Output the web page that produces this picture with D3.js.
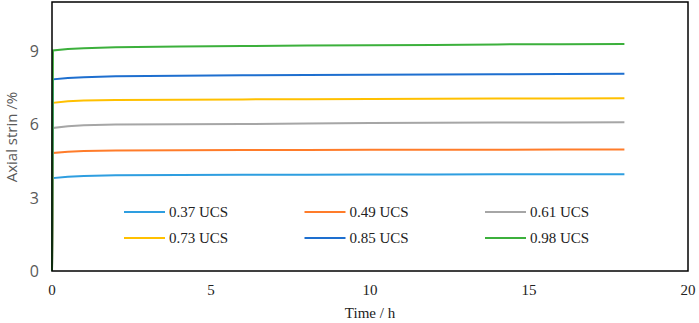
<!DOCTYPE html>
<html lang="en">
<head>
    <meta charset="UTF-8">
    <title>Axial strain</title>
    <script src="https://cdn.jsdelivr.net/npm/d3@7"></script>
    <style>
        body { margin: 0; background: #fff; }
    </style>
</head>
<body>
<script>
    const times = [0, 0.03, 0.5, 1, 2, 4, 6, 8, 10, 12, 14, 16, 18];
    const labels = ["0.37 UCS", "0.49 UCS", "0.61 UCS", "0.73 UCS", "0.85 UCS", "0.98 UCS"];
    const colors = ["#2e9ee0", "#ff7c2a", "#a6a6a6", "#ffc000", "#1e6fcf", "#3cb03c"];
    const s037 = [0, 3.80, 3.86, 3.89, 3.92, 3.93, 3.94, 3.94, 3.95, 3.95, 3.96, 3.96, 3.96];
    const s049 = [0, 4.83, 4.88, 4.91, 4.93, 4.94, 4.95, 4.95, 4.96, 4.96, 4.96, 4.97, 4.97];
    const s061 = [0, 5.85, 5.92, 5.96, 5.99, 6.00, 6.01, 6.03, 6.05, 6.06, 6.07, 6.08, 6.09];
    const s073 = [0, 6.88, 6.94, 6.97, 7.00, 7.01, 7.02, 7.03, 7.04, 7.05, 7.06, 7.06, 7.07];
    const s085 = [0, 7.84, 7.90, 7.93, 7.97, 7.99, 8.01, 8.02, 8.03, 8.04, 8.05, 8.06, 8.07];
    const s098 = [0, 9.02, 9.08, 9.11, 9.15, 9.18, 9.20, 9.22, 9.24, 9.25, 9.27, 9.28, 9.29];
    const series = [s037, s049, s061, s073, s085, s098];
    const xTicks = [0, 5, 10, 15, 20];
    const yTicks = [0, 3, 6, 9];

    const serif = "'Liberation Serif', 'Times New Roman', serif";
    const sans = "'Open Sans', 'Liberation Sans', sans-serif";

    const dim = {width: 699, height: 323};
    const box = {left: 52, right: 688, top: 2, bottom: 271};

    const svg = d3.select("body").append("svg")
        .attr("width", dim.width)
        .attr("height", dim.height);

    const x = d3.scaleLinear().domain([0, 20]).range([box.left, box.right]);
    const y = d3.scaleLinear().domain([0, 9]).range([box.bottom, 51]);

    const line = d3.line().x((d, i) => x(times[i])).y(d => y(d));
    svg.append("g").selectAll("path")
        .data(series)
        .join("path")
        .attr("d", d => line(d))
        .attr("fill", "none")
        .attr("stroke", (d, i) => colors[i])
        .attr("stroke-width", 2);

    // frame
    svg.append("rect")
        .attr("x", box.left).attr("y", box.top)
        .attr("width", box.right - box.left)
        .attr("height", box.bottom - box.top)
        .attr("fill", "none")
        .attr("stroke", "#000")
        .attr("stroke-width", 1.5);

    // x axis labels
    svg.append("g").selectAll("text")
        .data(xTicks)
        .join("text")
        .attr("font-family", serif)
        .attr("x", d => x(d))
        .attr("y", 295)
        .attr("text-anchor", "middle")
        .attr("font-size", 15)
        .attr("fill", "#222")
        .text(d => d);

    svg.append("text")
        .attr("font-family", serif)
        .attr("x", 370).attr("y", 318)
        .attr("text-anchor", "middle")
        .attr("font-size", 15)
        .attr("fill", "#222")
        .text("Time / h");

    // y axis labels
    svg.append("g").selectAll("text")
        .data(yTicks)
        .join("text")
        .attr("font-family", sans)
        .attr("x", 39)
        .attr("y", d => y(d) + 6)
        .attr("text-anchor", "end")
        .attr("font-size", 16)
        .attr("fill", "#595959")
        .text(d => d);

    svg.append("text")
        .attr("font-family", sans)
        .attr("transform", "translate(17,137) rotate(-90)")
        .attr("text-anchor", "middle")
        .attr("font-size", 15)
        .attr("fill", "#595959")
        .text("Axial strin /%");

    // legend
    const legend = svg.append("g").selectAll("g")
        .data(labels)
        .join("g")
        .attr("transform", (d, i) => `translate(${124 + (i % 3) * 180.5},${212 + Math.floor(i / 3) * 26})`);
    legend.append("line")
        .attr("x1", 0).attr("x2", 41)
        .attr("stroke", (d, i) => colors[i])
        .attr("stroke-width", 2);
    legend.append("text")
        .attr("font-family", serif)
        .attr("x", 45).attr("y", 5)
        .attr("font-size", 15)
        .attr("fill", "#222")
        .text(d => d);
</script>
</body>
</html>
